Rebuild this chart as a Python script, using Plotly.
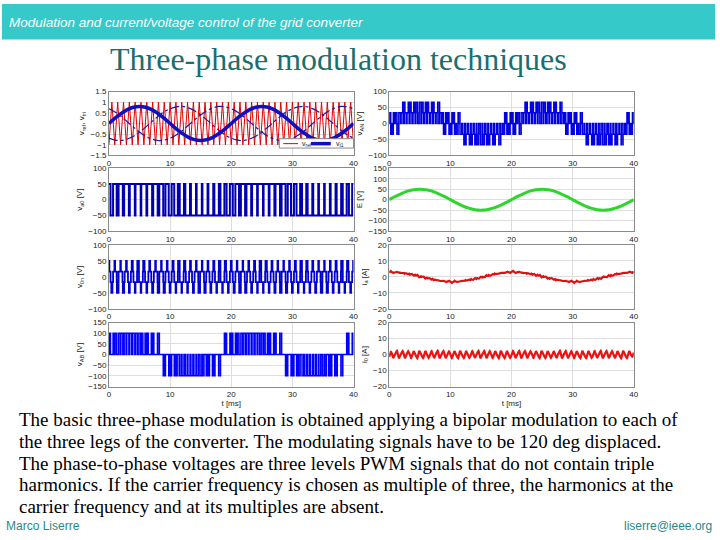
import numpy as np
import plotly.graph_objects as go

# ---------------- data ----------------
t_ms = list(range(41))
# modulating signals (per unit) sampled every 1 ms
m_a = [0.00, 0.25, 0.47, 0.65, 0.76, 0.80, 0.76, 0.65, 0.47, 0.25,
       0.00, -0.25, -0.47, -0.65, -0.76, -0.80, -0.76, -0.65, -0.47, -0.25,
       0.00, 0.25, 0.47, 0.65, 0.76, 0.80, 0.76, 0.65, 0.47, 0.25,
       0.00, -0.25, -0.47, -0.65, -0.76, -0.80, -0.76, -0.65, -0.47, -0.25, 0.00]
m_b = [-0.69, -0.78, -0.80, -0.73, -0.60, -0.40, -0.17, 0.08, 0.33, 0.54,
       0.69, 0.78, 0.80, 0.73, 0.60, 0.40, 0.17, -0.08, -0.33, -0.54,
       -0.69, -0.78, -0.80, -0.73, -0.60, -0.40, -0.17, 0.08, 0.33, 0.54,
       0.69, 0.78, 0.80, 0.73, 0.60, 0.40, 0.17, -0.08, -0.33, -0.54, -0.69]
m_c = [0.69, 0.54, 0.33, 0.08, -0.17, -0.40, -0.60, -0.73, -0.80, -0.78,
       -0.69, -0.54, -0.33, -0.08, 0.17, 0.40, 0.60, 0.73, 0.80, 0.78,
       0.69, 0.54, 0.33, 0.08, -0.17, -0.40, -0.60, -0.73, -0.80, -0.78,
       -0.69, -0.54, -0.33, -0.08, 0.17, 0.40, 0.60, 0.73, 0.80, 0.78, 0.69]
# grid voltage E [V]
e_grid = [0, 15.5, 29.4, 40.5, 47.6, 50, 47.6, 40.5, 29.4, 15.5,
          0, -15.5, -29.4, -40.5, -47.6, -50, -47.6, -40.5, -29.4, -15.5,
          0, 15.5, 29.4, 40.5, 47.6, 50, 47.6, 40.5, 29.4, 15.5,
          0, -15.5, -29.4, -40.5, -47.6, -50, -47.6, -40.5, -29.4, -15.5, 0]
# phase current fundamental i_a [A]
i_a_fund = [3.0, 3.0, 2.6, 2.0, 1.2, 0.3, -0.6, -1.5, -2.2, -2.8,
            -3.1, -3.0, -2.6, -2.0, -1.2, -0.3, 0.6, 1.5, 2.2, 2.8,
            3.1, 3.0, 2.6, 2.0, 1.2, 0.3, -0.6, -1.5, -2.2, -2.8,
            -3.1, -3.0, -2.6, -2.0, -1.2, -0.3, 0.6, 1.5, 2.2, 2.8, 3.1]
carrier_khz = 1.05          # carrier frequency
carrier_peak = [-1.0, 1.0]  # carrier valley / peak
vdc = 100.0                 # dc-link voltage [V]
L_phase_mH = 8.0
L_zero_mH = 3.0

x_ticks = [0, 10, 20, 30, 40]

# ---------------- PWM from the read signals ----------------
tf = np.linspace(0, 40, 40001)
dt_s = (tf[1] - tf[0]) * 1e-3
ph = (tf * carrier_khz) % 1.0
tri = carrier_peak[1] - (carrier_peak[1] - carrier_peak[0]) * 2 * np.abs(ph - 0.5)
ra = np.interp(tf, t_ms, m_a)
rb = np.interp(tf, t_ms, m_b)
rc = np.interp(tf, t_ms, m_c)
va0 = np.where(ra > tri, vdc / 2, -vdc / 2)
vb0 = np.where(rb > tri, vdc / 2, -vdc / 2)
vc0 = np.where(rc > tri, vdc / 2, -vdc / 2)
vAN = (2 * va0 - vb0 - vc0) / 3
v0n = (va0 + vb0 + vc0) / 3
vAB = va0 - vb0

nwin = int(round(1.0 / carrier_khz / (tf[1] - tf[0])))


def mov_avg(x, n):
    k = np.ones(n) / n
    xp = np.pad(x, (n, n), mode="reflect")
    return np.convolve(xp, k, mode="same")[n:-n]


rip_a = np.cumsum((vAN - vdc / 2 * ra) * dt_s) / (L_phase_mH * 1e-3)
rip_a = rip_a - mov_avg(rip_a, nwin)
i_a = np.interp(tf, t_ms, i_a_fund) + rip_a
i_0 = np.cumsum(v0n * dt_s) / (L_zero_mH * 1e-3)
i_0 = i_0 - mov_avg(i_0, nwin)


def steps(t, v):
    idx = np.where(np.diff(v) != 0)[0] + 1
    idx = np.concatenate(([0], idx, [len(v) - 1]))
    return t[idx], v[idx]


# carrier vertices
tv = np.arange(0, 40 + 1e-9, 0.5 / carrier_khz)
tv = np.append(tv, 40.0)
phv = (tv * carrier_khz) % 1.0
triv = carrier_peak[1] - (carrier_peak[1] - carrier_peak[0]) * 2 * np.abs(phv - 0.5)

# ---------------- figure ----------------
W, H = 720, 540


def px(x):
    return x / W


def py(y):
    return 1 - y / H


cols = [(108, 355), (391, 638)]
rows = [(89, 154), (167, 231), (245, 310), (324, 389)]

fig = go.Figure()
TF = dict(family="Liberation Sans", size=8, color="#222222")


def add_axes(n, col, row, yrange, ydtick, ytitle, xtitle=None):
    xa = dict(domain=[px(cols[col][0]), px(cols[col][1])], range=[0, 40],
              tickvals=x_ticks, showline=True, mirror=True, linecolor="#8a8a8a",
              showgrid=True, gridcolor="#dedede", zeroline=False, ticks="",
              tickfont=TF, anchor="y%d" % n if n > 1 else "y")
    if xtitle:
        xa["title"] = dict(text=xtitle, font=TF, standoff=2)
    yt = list(np.arange(yrange[0], yrange[1] + 1e-9, ydtick))
    ya = dict(domain=[py(rows[row][1]), py(rows[row][0])], range=yrange,
              tickvals=yt, showline=True, mirror=True, linecolor="#8a8a8a",
              showgrid=True, gridcolor="#dedede", zeroline=False, ticks="",
              tickfont=TF, anchor="x%d" % n if n > 1 else "x",
              title=dict(text=ytitle, font=TF, standoff=4))
    key = "" if n == 1 else str(n)
    fig.update_layout(**{"xaxis" + key: xa, "yaxis" + key: ya})
    return ("x" + key, "y" + key)


# 1: modulation
a1 = add_axes(1, 0, 0, [-1.5, 1.5], 0.5, "v<sub>ref</sub>, v<sub>tri</sub>")
fig.add_trace(go.Scatter(x=tv, y=triv, mode="lines", line=dict(color="#e00000", width=1),
                         xaxis=a1[0], yaxis=a1[1], showlegend=False))
for m in (m_b, m_c):
    fig.add_trace(go.Scatter(x=t_ms, y=m, mode="lines", line=dict(color="#1a1aa0", width=1.2, dash="dashdot", shape="spline"),
                             xaxis=a1[0], yaxis=a1[1], showlegend=False))
fig.add_trace(go.Scatter(x=t_ms, y=m_a, mode="lines", line=dict(color="#1010c0", width=3.5, shape="spline"),
                         xaxis=a1[0], yaxis=a1[1], showlegend=False))

# 2: v_AN
a2 = add_axes(2, 1, 0, [-100, 100], 50, "v<sub>AN</sub> [V]")
sx, sy = steps(tf, vAN)
fig.add_trace(go.Scatter(x=sx, y=sy, mode="lines", line=dict(color="#0000e0", width=1.5, shape="hv"),
                         xaxis=a2[0], yaxis=a2[1], showlegend=False))

# 3: v_a0
a3 = add_axes(3, 0, 1, [-100, 100], 50, "v<sub>a0</sub> [V]")
sx, sy = steps(tf, va0)
fig.add_trace(go.Scatter(x=sx, y=sy, mode="lines", line=dict(color="#0000b0", width=2, shape="hv"),
                         xaxis=a3[0], yaxis=a3[1], showlegend=False))

# 4: E
a4 = add_axes(4, 1, 1, [-150, 150], 50, "E [V]")
fig.add_trace(go.Scatter(x=t_ms, y=e_grid, mode="lines", line=dict(color="#2fd52f", width=3, shape="spline"),
                         xaxis=a4[0], yaxis=a4[1], showlegend=False))

# 5: v_0n
a5 = add_axes(5, 0, 2, [-100, 100], 50, "v<sub>0n</sub> [V]")
sx, sy = steps(tf, v0n)
fig.add_trace(go.Scatter(x=sx, y=sy, mode="lines", line=dict(color="#0000d0", width=1.8, shape="hv"),
                         xaxis=a5[0], yaxis=a5[1], showlegend=False))

# 6: i_a
a6 = add_axes(6, 1, 2, [-20, 20], 10, "i<sub>a</sub> [A]")
fig.add_trace(go.Scatter(x=tf[::10], y=i_a[::10], mode="lines", line=dict(color="#e01010", width=2.2),
                         xaxis=a6[0], yaxis=a6[1], showlegend=False))

# 7: v_AB
a7 = add_axes(7, 0, 3, [-150, 150], 50, "v<sub>AB</sub> [V]", "t [ms]")
sx, sy = steps(tf, vAB)
fig.add_trace(go.Scatter(x=sx, y=sy, mode="lines", line=dict(color="#0000ff", width=1.5, shape="hv"),
                         xaxis=a7[0], yaxis=a7[1], showlegend=False))

# 8: i_0
a8 = add_axes(8, 1, 3, [-20, 20], 10, "i<sub>0</sub> [A]", "t [ms]")
fig.add_trace(go.Scatter(x=tf[::10], y=i_0[::10], mode="lines", line=dict(color="#f01010", width=2.2),
                         xaxis=a8[0], yaxis=a8[1], showlegend=False))

shapes = []
ann = []
# header bar
shapes.append(dict(type="rect", xref="paper", yref="paper", x0=0, x1=1, y0=py(36), y1=1,
                   fillcolor="#35c9c9", line=dict(width=0), layer="below"))
ann.append(dict(text="<i>Modulation and current/voltage control of the grid converter</i>",
                x=px(5), y=py(19), xref="paper", yref="paper", xanchor="left", yanchor="middle",
                showarrow=False, font=dict(family="Liberation Sans", size=13.5, color="white")))
ann.append(dict(text="Three-phase modulation techniques", x=px(340), y=py(56), xref="paper", yref="paper",
                xanchor="center", yanchor="middle", showarrow=False,
                font=dict(family="Liberation Serif", size=32, color="#1b6e6e")))

# legend box in panel 1
shapes.append(dict(type="rect", xref="paper", yref="paper", x0=px(280), x1=px(355), y0=py(146.5), y1=py(137),
                   fillcolor="white", line=dict(color="#8a8a8a", width=1)))
shapes.append(dict(type="line", xref="paper", yref="paper", x0=px(284), x1=px(299), y0=py(142), y1=py(142),
                   line=dict(color="#e00000", width=1)))
shapes.append(dict(type="line", xref="paper", yref="paper", x0=px(312), x1=px(332), y0=py(142), y1=py(142),
                   line=dict(color="#1010c0", width=3.5)))
ann.append(dict(text="v<sub>ref</sub>", x=px(301), y=py(142), xref="paper", yref="paper", xanchor="left",
                yanchor="middle", showarrow=False, font=dict(family="Liberation Sans", size=7, color="#222")))
ann.append(dict(text="v<sub>t1</sub>", x=px(335), y=py(142), xref="paper", yref="paper", xanchor="left",
                yanchor="middle", showarrow=False, font=dict(family="Liberation Sans", size=7, color="#222")))

# paragraph
lines = [
    "The basic three-phase modulation is obtained applying a bipolar modulation to each of",
    "the three legs of the converter. The modulating signals have to be 120 deg displaced.",
    "The phase-to-phase voltages are three levels PWM signals that do not contain triple",
    "harmonics. If the carrier frequency is chosen as multiple of three, the harmonics at the",
    "carrier frequency and at its multiples are absent.",
]
for k, s in enumerate(lines):
    ann.append(dict(text=s, x=px(16), y=py(423 + 22 * k), xref="paper", yref="paper", xanchor="left",
                    yanchor="middle", showarrow=False, borderpad=0,
                    font=dict(family="Liberation Serif", size=19, color="black")))

ann.append(dict(text="Marco Liserre", x=px(3), y=py(531), xref="paper", yref="paper", xanchor="left",
                yanchor="middle", showarrow=False, borderpad=0,
                font=dict(family="Liberation Sans", size=12, color="#1f8a8a")))
ann.append(dict(text="liserre@ieee.org", x=px(718), y=py(531), xref="paper", yref="paper", xanchor="right",
                yanchor="middle", showarrow=False, borderpad=0,
                font=dict(family="Liberation Sans", size=12, color="#1f8a8a")))

fig.update_layout(width=W, height=H, margin=dict(l=0, r=0, t=0, b=0), paper_bgcolor="white",
                  plot_bgcolor="white", shapes=shapes, annotations=ann, showlegend=False)
fig.write_html("out.html")
